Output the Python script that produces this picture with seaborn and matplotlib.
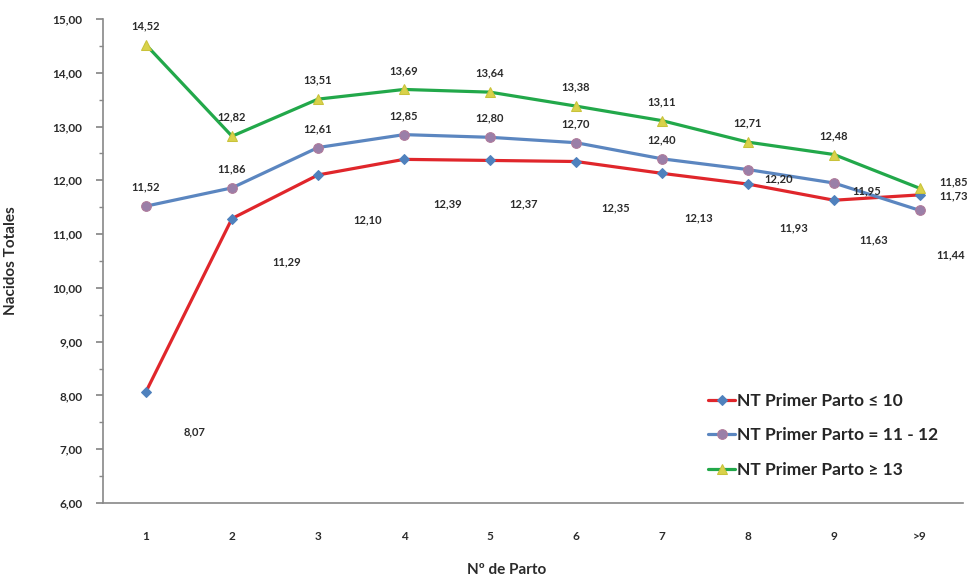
import matplotlib

matplotlib.use("Agg")
import matplotlib.pyplot as plt
import matplotlib.ticker as mticker
import pandas as pd
import seaborn as sns

PARTOS = ["1", "2", "3", "4", "5", "6", "7", "8", "9", ">9"]
NT_LE_10 = [8.07, 11.29, 12.10, 12.39, 12.37, 12.35, 12.13, 11.93, 11.63, 11.73]
NT_11_12 = [11.52, 11.86, 12.61, 12.85, 12.80, 12.70, 12.40, 12.20, 11.95, 11.44]
NT_GE_13 = [14.52, 12.82, 13.51, 13.69, 13.64, 13.38, 13.11, 12.71, 12.48, 11.85]
SERIES_NAMES = [
    "NT Primer Parto \u2264 10",
    "NT Primer Parto = 11 - 12",
    "NT Primer Parto \u2265 13",
]

# label offsets in pixels (dx, dy), dy positive = down
OFF_RED = [(49, 40), (55, 43), (50, 45), (44, 44), (34, 43), (40, 46), (37, 45), (46, 44), (40, 40), (34, 1)]
OFF_BLUE = [(0, -19)] * 7 + [(31, 9), (33, 8), (31, 44)]
OFF_GREEN = [(0, -19)] * 9 + [(34, -7)]

sns.set_theme(style="white")
plt.rcParams["font.family"] = ["Lato", "DejaVu Sans"]

df = pd.DataFrame({
    "pos": list(range(len(PARTOS))) * 3,
    "value": NT_LE_10 + NT_11_12 + NT_GE_13,
    "serie": [n for n in SERIES_NAMES for _ in PARTOS],
})

fig = plt.figure(figsize=(9.73, 5.77), dpi=100)
ax = fig.add_axes([103 / 973, 1 - 503 / 577, 860 / 973, 484 / 577])

styles = [
    dict(color="#E0262B", marker="D", markersize=5, markerfacecolor="#4F81BD", markeredgecolor="#4F81BD"),
    dict(color="#5B86C0", marker="o", markersize=7, markerfacecolor="#9A7FA8", markeredgecolor="#B07A9A"),
    dict(color="#22A84A", marker="^", markersize=6.5, markerfacecolor="#D9D24A", markeredgecolor="#C9C23A"),
]
offsets = [OFF_RED, OFF_BLUE, OFF_GREEN]

for name, st, offs in zip(SERIES_NAMES, styles, offsets):
    sub = df[df["serie"] == name]
    sns.lineplot(data=sub, x="pos", y="value", ax=ax, linewidth=2.3, label=name, **st)
    for x, v, (dx, dy) in zip(sub["pos"], sub["value"], offs):
        ax.annotate(f"{v:.2f}".replace(".", ","), (x, v), xytext=(dx, -dy),
                    textcoords="offset pixels", ha="center", va="center",
                    fontsize=8, fontweight="bold", color="#2b2b2b")

ax.set_xlim(-0.5, 9.5)
ax.set_ylim(6, 15)
ax.set_xticks(range(len(PARTOS)))
ax.set_xticklabels(PARTOS)
ax.xaxis.set_minor_locator(mticker.FixedLocator([i + 0.5 for i in range(-1, 10)]))
ax.tick_params(axis="x", which="major", length=0, pad=20, labelsize=8.5, labelcolor="#2b2b2b")
ax.tick_params(axis="x", which="minor", length=5, direction="inout", color="#888888", width=1)
ax.yaxis.set_major_locator(mticker.MultipleLocator(1))
ax.yaxis.set_minor_locator(mticker.MultipleLocator(0.5))
ax.yaxis.set_major_formatter(mticker.FuncFormatter(lambda v, _: f"{v:.2f}".replace(".", ",")))
ax.tick_params(axis="y", which="major", length=5, direction="out", color="#888888",
               labelsize=8.5, labelcolor="#2b2b2b", pad=10, left=True)
ax.tick_params(axis="y", which="minor", length=3, direction="out", color="#888888", left=True)
for lab in ax.get_xticklabels() + ax.get_yticklabels():
    lab.set_fontweight("bold")

for side in ["top", "right"]:
    ax.spines[side].set_visible(False)
for side in ["left", "bottom"]:
    ax.spines[side].set_color("#888888")
    ax.spines[side].set_linewidth(1.2)

ax.set_xlabel("N\u00ba de Parto", fontsize=11, fontweight="bold", color="#2b2b2b")
ax.xaxis.set_label_coords((507 - 103) / 860, -(563 - 503) / 484)
ax.set_ylabel("Nacidos Totales", fontsize=11, fontweight="bold", color="#2b2b2b")
ax.yaxis.set_label_coords(-(103 - 18) / 860, 0.5)

ax.legend(loc="upper left", bbox_to_anchor=(699 / 973, 1 - 384 / 577), bbox_transform=fig.transFigure,
          frameon=False, prop={"size": 12.5, "weight": "bold"}, handlelength=1.6,
          handletextpad=0.1, labelspacing=1.08, borderpad=0)

fig.savefig("out.png", dpi=100)
